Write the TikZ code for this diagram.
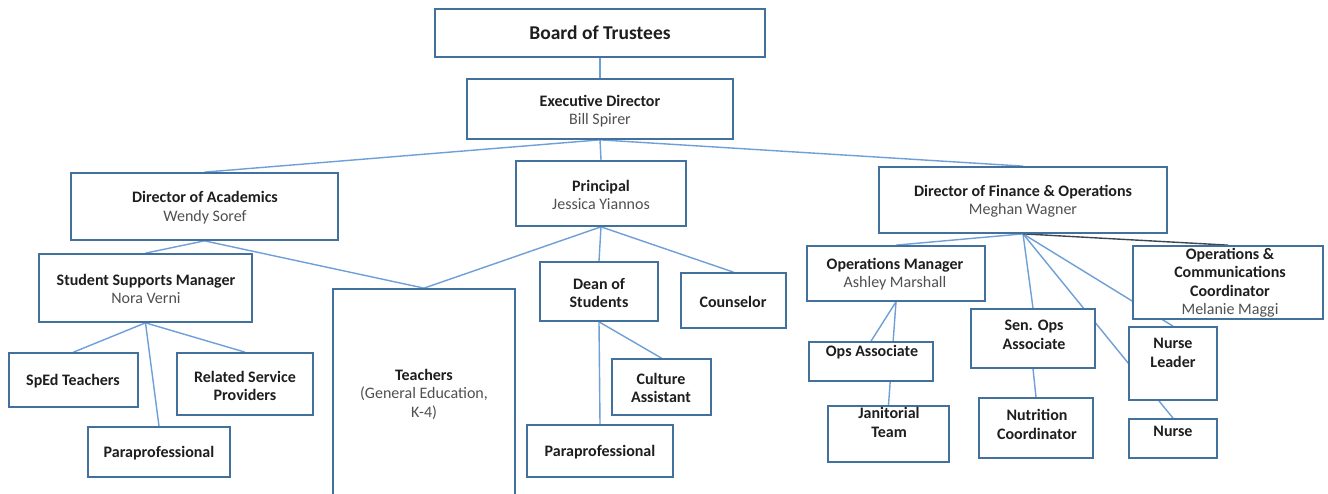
\documentclass[tikz,border=0pt]{standalone}
\usepackage{fontspec}
\setmainfont{Carlito}
\usetikzlibrary{backgrounds}

\definecolor{boxline}{HTML}{41719C}
\definecolor{linkline}{HTML}{6F9FD8}
\definecolor{darklink}{HTML}{3C4650}
\definecolor{titletext}{HTML}{1E1E1E}
\definecolor{nametext}{HTML}{505050}

% box from (x1,y1) to (x2,y2), picture units are points, y grows downward
\newcommand\orgbox[5]{%
  \node[orgbox, minimum width={#4pt-#2pt}, minimum height={#5pt-#3pt}]
    (#1) at ({(#2+#4)/2},{(#3+#5)/2}) {};}
\newcommand\orgtext[4]{\node[orgtext] (#1) at (#2,#3) {#4};}
\newcommand\orgtitle[1]{\textbf{#1}}
\newcommand\orgname[1]{{\color{nametext}#1}}

\tikzset{
  orgbox/.style={draw=boxline, line width=1.7pt, fill=white, inner sep=0pt},
  orgtext/.style={inner sep=0pt, align=center, text=titletext,
                  font=\fontsize{16}{18.5}\selectfont},
  link/.style={draw=linkline, line width=1.4pt},
  darkline/.style={draw=darklink, line width=1.4pt},
}

\begin{document}
\begin{tikzpicture}[x=1pt, y=-1pt]
\useasboundingbox (0,0) rectangle (1328,494);

% --- boxes ---
\orgbox{board}{435}{9}{765}{57}
\orgbox{exec}{467}{79}{733}{139}
\orgbox{doa}{71}{173}{338}{240}
\orgbox{prin}{516}{161}{686}{226}
\orgbox{dof}{879}{167}{1167}{233}
\orgbox{ssm}{39}{254}{252}{322}
\orgbox{sped}{9}{353}{138}{407}
\orgbox{rsp}{177}{353}{313}{415}
\orgbox{paraL}{88}{427}{230}{477}
\begin{scope}
  \clip (0,0) rectangle (1328,494);
  \orgbox{teach}{333}{289}{515}{510}
\end{scope}
\orgbox{dean}{540}{262}{658}{321}
\orgbox{couns}{681}{273}{786}{328}
\orgbox{cult}{612}{359}{711}{415}
\orgbox{paraM}{527}{425}{673}{477}
\orgbox{opsm}{807}{246}{985}{301}
\orgbox{occ}{1133}{246}{1323}{319}
\orgbox{senops}{971}{309}{1095}{368}
\orgbox{opsa}{809}{342}{933}{381}
\orgbox{jan}{828}{406}{949}{462}
\orgbox{nutr}{979}{398}{1093}{458}
\orgbox{nlead}{1129}{327}{1217}{400}
\orgbox{nurse}{1129}{419}{1217}{458}

% --- texts ---
\node[orgtext, font=\fontsize{19.5}{23}\selectfont] (board-t) at (600,33)
  {\orgtitle{Board of Trustees}};
\orgtext{exec-t}{600}{111}{\orgtitle{Executive Director}\\\orgname{Bill Spirer}}
\orgtext{prin-t}{601}{195}{\orgtitle{Principal}\\\orgname{Jessica Yiannos}}
\orgtext{doa-t}{205}{207.5}{\orgtitle{Director of Academics}\\\orgname{Wendy Soref}}
\orgtext{dof-t}{1023}{201.5}{\orgtitle{Director of Finance \& Operations}\\\orgname{Meghan Wagner}}
\orgtext{ssm-t}{146}{289}{\orgtitle{Student Supports Manager}\\\orgname{Nora Verni}}
\orgtext{sped-t}{73}{381}{\orgtitle{SpEd Teachers}}
\orgtext{rsp-t}{245}{386}{\orgtitle{Related Service}\\\orgtitle{Providers}}
\orgtext{paraL-t}{159}{453}{\orgtitle{Paraprofessional}}
\orgtext{teach-t}{424}{394}{\orgtitle{Teachers}\\\orgname{(General Education,}\\\orgname{K-4)}}
\orgtext{dean-t}{599}{293}{\orgtitle{Dean of}\\\orgtitle{Students}}
\orgtext{couns-t}{733}{302}{\orgtitle{Counselor}}
\orgtext{cult-t}{661}{388}{\orgtitle{Culture}\\\orgtitle{Assistant}}
\orgtext{paraM-t}{600}{452}{\orgtitle{Paraprofessional}}
\orgtext{opsm-t}{895}{274}{\orgtitle{Operations Manager}\\\orgname{Ashley Marshall}}
\orgtext{occ-t}{1230}{283}{\orgtitle{Operations \&}\\\orgtitle{Communications}\\\orgtitle{Coordinator}\\\orgname{Melanie Maggi}}
\orgtext{senops-t}{1034}{335}{\orgtitle{Sen. Ops}\\\orgtitle{Associate}}
\orgtext{opsa-t}{872}{352}{\orgtitle{Ops Associate}}
\orgtext{jan-t}{889}{422.5}{\orgtitle{Janitorial}\\\orgtitle{Team}}
\orgtext{nutr-t}{1037}{424.5}{\orgtitle{Nutrition}\\\orgtitle{Coordinator}}
\orgtext{nlead-t}{1173}{353}{\orgtitle{Nurse}\\\orgtitle{Leader}}
\orgtext{nurse-t}{1173}{431}{\orgtitle{Nurse}}

% --- white page and connectors, kept behind the boxes ---
\begin{pgfonlayer}{background}
  \fill[white] (0,0) rectangle (1328,494);
  \draw[link] (board.south) -- (exec.north);
  \draw[link] (exec.south) -- (doa.north);
  \draw[link] (exec.south) -- (prin.north);
  \draw[link] (exec.south) -- (dof.north);
  \draw[link] (doa.south) -- (ssm.north);
  \draw[link] (doa.south) -- (teach.north);
  \draw[link] (prin.south) -- (teach.north);
  \draw[link] (prin.south) -- (dean.north);
  \draw[link] (prin.south) -- (couns.north);
  \draw[link] (dean.south) -- (cult.north);
  \draw[link] (dean.south) -- (paraM.north);
  \draw[link] (ssm.south) -- (sped.north);
  \draw[link] (ssm.south) -- (rsp.north);
  \draw[link] (ssm.south) -- (paraL.north);
  \draw[link] (dof.south) -- (opsm.north);
  \draw[link] (dof.south) -- (senops.north);
  \draw[link] (dof.south) -- (nlead.north);
  \draw[link] (dof.south) -- (nurse.north);
  \draw[darkline] (dof.south) -- (occ.north);
  \draw[link] (opsm.south) -- (opsa.north);
  \draw[link] (opsm.south) -- (jan.north);
  \draw[link] (senops.south) -- (nutr.north);
\end{pgfonlayer}
\end{tikzpicture}
\end{document}
